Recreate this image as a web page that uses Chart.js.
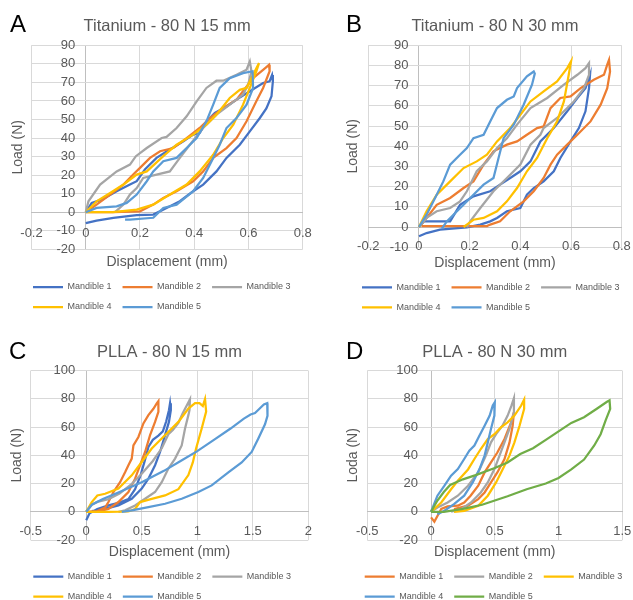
<!DOCTYPE html>
<html>
<head>
<meta charset="utf-8">
<script src="https://cdn.jsdelivr.net/npm/chart.js@4.4.1/dist/chart.umd.min.js"></script>
<style>
  html, body { margin: 0; padding: 0; background: #fff; overflow: hidden; }
  #page { position: relative; width: 633px; height: 600px; overflow: hidden; background: #fff; }
  #page canvas { position: absolute; }
  .tag { position: absolute; font-family: 'Liberation Sans', Arial, sans-serif; font-size: 24px; line-height: 24px; color: #000; }
</style>
</head>
<body>
<div id="page">
  <canvas id="chartA" width="330" height="320" style="left:0;top:0"></canvas>
  <canvas id="chartB" width="330" height="320" style="left:316px;top:0"></canvas>
  <canvas id="chartC" width="330" height="290" style="left:0;top:320px"></canvas>
  <canvas id="chartD" width="330" height="290" style="left:316px;top:320px"></canvas>
  <div class="tag" style="left:10px;top:12px">A</div>
  <div class="tag" style="left:346px;top:12px">B</div>
  <div class="tag" style="left:9px;top:339px">C</div>
  <div class="tag" style="left:346px;top:339px">D</div>
</div>
<script>
// --- data: [displacement (mm), load (N)] ---

// A: Titanium - 80 N 15 mm
const tiA_m1 = [[0,0],[0.022,5],[0.059,6.8],[0.114,11.3],[0.163,14.9],[0.188,16.7],[0.218,23],[0.261,29.3],[0.31,33.8],[0.36,38.2],[0.396,41.8],[0.42,42.7],[0.445,49],[0.476,53.5],[0.519,57],[0.556,60.7],[0.605,65.2],[0.654,69.7],[0.678,70.6],[0.687,74],[0.69,70.6],[0.685,62.5],[0.666,56],[0.642,50.8],[0.605,43.6],[0.568,36.4],[0.519,29.3],[0.482,22],[0.433,14.9],[0.396,11.3],[0.347,5.9],[0.298,2.3],[0.249,-1.3],[0.188,-1.6],[0.102,-3],[0.04,-4.5],[0,-5.9]];
const tiA_m2 = [[0,0],[0.04,4.1],[0.09,9.5],[0.139,14.9],[0.175,20.3],[0.2,23.9],[0.237,29.3],[0.274,32.9],[0.323,34.6],[0.35,37.5],[0.372,40],[0.42,45.4],[0.458,50.8],[0.507,56.2],[0.556,60.7],[0.58,65.2],[0.617,72.3],[0.654,76.8],[0.676,79.5],[0.678,76],[0.654,67],[0.629,59.8],[0.593,49],[0.556,40],[0.519,34.6],[0.47,29.3],[0.433,22],[0.396,16.7],[0.335,11.3],[0.286,7.7],[0.249,4.1],[0.2,0.5],[0.1,0],[0,0]];
const tiA_m3 = [[0,0],[0.01,5.9],[0.053,14.9],[0.114,22],[0.163,25.7],[0.185,30.2],[0.225,34.6],[0.28,40],[0.298,40.6],[0.335,45.4],[0.372,51.7],[0.409,59.8],[0.445,67],[0.482,70.9],[0.507,70.9],[0.556,74.1],[0.593,76.8],[0.605,81.3],[0.611,76],[0.599,68.8],[0.58,63.4],[0.531,58],[0.482,52.6],[0.433,45.4],[0.384,36.4],[0.347,29.3],[0.31,22],[0.261,20.3],[0.212,18.5],[0.188,13],[0.163,9.5],[0.139,4.1],[0.108,0]];
const tiA_m4 = [[0,0],[0.04,5.9],[0.09,10.4],[0.139,14.9],[0.188,20.3],[0.225,22],[0.286,30.2],[0.335,36.4],[0.396,41.8],[0.445,47.2],[0.482,52.6],[0.531,61.6],[0.568,66],[0.593,67],[0.617,74.1],[0.639,80.4],[0.629,76],[0.605,67],[0.58,58],[0.544,47.2],[0.507,40],[0.47,31],[0.42,22],[0.372,14.9],[0.31,9.5],[0.249,4.1],[0.188,1.4],[0.1,0],[0,0]];
const tiA_m5 = [[0,0],[0.04,2.3],[0.114,3.2],[0.151,5],[0.188,9.5],[0.225,16.7],[0.249,22],[0.286,27.5],[0.335,29.3],[0.372,34.6],[0.409,40],[0.445,49],[0.47,58],[0.494,67],[0.531,72.3],[0.58,75],[0.615,76],[0.617,67],[0.593,58],[0.556,50.8],[0.519,45.4],[0.494,36.4],[0.464,27.5],[0.433,18.5],[0.396,11.3],[0.335,4.1],[0.286,2.3],[0.249,-3],[0.163,-4],[0.145,-4]];

// B: Titanium - 80 N 30 mm
const tiB_m1 = [[0,0],[0.02,2.8],[0.123,2.8],[0.162,11],[0.215,15.2],[0.281,17.7],[0.32,21],[0.36,24.3],[0.4,27.6],[0.44,32.5],[0.479,42.4],[0.532,49],[0.585,57.3],[0.625,63.9],[0.657,68.8],[0.675,75.4],[0.671,68.8],[0.657,57.3],[0.631,49],[0.598,42.4],[0.558,34.2],[0.532,27.6],[0.492,22.6],[0.453,19.3],[0.426,16],[0.4,9.4],[0.347,7.8],[0.308,4.5],[0.281,2.8],[0.242,1.2],[0.189,-0.2],[0.083,-1.3],[0.03,-3],[0,-4.6]];
const tiB_m2 = [[0,0],[0.03,4.5],[0.07,11],[0.123,14.4],[0.176,19.3],[0.215,22.6],[0.255,30.9],[0.294,37.5],[0.347,40.8],[0.387,42.4],[0.426,45.7],[0.466,49],[0.492,49.8],[0.519,58.9],[0.558,63.9],[0.598,64.7],[0.638,68.8],[0.69,72.9],[0.73,75.4],[0.743,80.4],[0.75,82.8],[0.754,77],[0.743,68.8],[0.717,60.6],[0.677,52.3],[0.625,45.7],[0.585,40.8],[0.545,35.8],[0.519,30.9],[0.492,24.3],[0.453,17.7],[0.413,12.7],[0.36,7.8],[0.32,2.8],[0.281,1.2],[0.268,0.5],[0.01,0.5]];
const tiB_m3 = [[0,0],[0.03,4.5],[0.07,7.8],[0.123,9.4],[0.162,12.7],[0.189,17.7],[0.228,27.6],[0.268,32.5],[0.308,39.1],[0.347,44],[0.387,50.7],[0.44,58.9],[0.506,63.9],[0.572,70.5],[0.625,75.4],[0.657,78.7],[0.671,81.2],[0.671,75.4],[0.651,68.8],[0.611,62.2],[0.545,54],[0.492,49],[0.479,45.7],[0.44,40.8],[0.4,30.9],[0.347,24.3],[0.294,17.7],[0.242,9.4],[0.202,2.8],[0.189,0]];
const tiB_m4 = [[0,0],[0.03,7.8],[0.07,16],[0.123,22.6],[0.176,29.2],[0.228,32.5],[0.268,35.8],[0.308,42.4],[0.36,49],[0.4,55.6],[0.44,62.2],[0.492,67.2],[0.545,72.1],[0.585,78.7],[0.6,82],[0.591,75.4],[0.572,62.2],[0.545,52.3],[0.506,44],[0.466,34.2],[0.426,27.6],[0.387,19.3],[0.347,12.7],[0.308,7.8],[0.255,4.5],[0.215,3.6],[0.189,1.2],[0.176,0]];
const tiB_m5 = [[0,0],[0.03,6.1],[0.07,16],[0.096,22.6],[0.123,30.9],[0.162,35.8],[0.189,39.1],[0.215,44],[0.255,45.7],[0.281,52.3],[0.308,58.9],[0.347,63],[0.374,64.7],[0.387,68.8],[0.426,74.6],[0.453,77],[0.457,76],[0.446,70.5],[0.413,60.6],[0.374,50.7],[0.334,44],[0.314,34.2],[0.294,24.3],[0.255,21],[0.215,16],[0.176,11],[0.136,6.1],[0.11,2.8],[0.09,-0.8]];

// C: PLLA - 80 N 15 mm
const plC_m1 = [[0,-6],[0.03,-1],[0.1,2],[0.2,4.5],[0.3,6.5],[0.38,9],[0.44,16],[0.49,26],[0.53,37],[0.56,46],[0.6,51],[0.65,54],[0.69,57],[0.72,64],[0.745,72],[0.755,77],[0.762,72],[0.745,63.7],[0.71,54.3],[0.665,42.4],[0.62,33],[0.56,23.5],[0.5,16.4],[0.41,9.2],[0.29,4.5],[0.17,2],[0.05,0.5]];
const plC_m2 = [[0,0],[0.1,0.5],[0.17,3],[0.2,6.9],[0.245,14],[0.305,21],[0.35,28],[0.38,33],[0.41,37.7],[0.425,47],[0.47,53],[0.515,62.6],[0.56,68.5],[0.605,73],[0.635,76.8],[0.65,78.4],[0.65,70.9],[0.62,63.7],[0.575,54.3],[0.53,42.4],[0.485,33],[0.44,23.5],[0.38,14],[0.29,6.9],[0.2,2],[0.11,0.2]];
const plC_m3 = [[0,0],[0.05,5],[0.1,7],[0.2,9],[0.3,13],[0.4,19],[0.5,27],[0.6,36],[0.68,45],[0.74,55],[0.78,58],[0.83,63],[0.87,70],[0.91,76],[0.934,79.6],[0.93,72],[0.92,68.5],[0.89,59],[0.86,47],[0.8,37.7],[0.74,30.6],[0.68,21],[0.62,14],[0.53,9.2],[0.44,4.5],[0.35,1],[0.29,0]];
const plC_m4 = [[0,0],[0.05,6.9],[0.1,11.6],[0.17,12.8],[0.29,16.4],[0.41,25.8],[0.5,35.3],[0.59,44.8],[0.68,51.9],[0.77,59],[0.83,63.7],[0.92,73.2],[0.98,77],[1.02,77],[1.05,75],[1.07,80],[1.08,71],[1.04,59],[0.99,45],[0.96,35],[0.92,26],[0.83,16],[0.71,11.6],[0.59,9.2],[0.485,6.9],[0.44,2],[0.38,0.2],[0.2,0],[0,0]];
const plC_m5 = [[0,0],[0.05,5],[0.15,9],[0.3,14],[0.5,21],[0.7,29],[0.85,36],[1,43],[1.15,51],[1.3,59],[1.42,66],[1.48,69],[1.52,70],[1.56,73],[1.6,76],[1.63,77],[1.635,74],[1.63,68],[1.61,62],[1.55,52],[1.49,42.4],[1.4,35],[1.28,28],[1.13,18.7],[1.01,14],[0.86,9.2],[0.71,5.7],[0.56,3.3],[0.41,1],[0.32,0]];

// D: PLLA - 80 N 30 mm
const plD_m1 = [[0,-4],[0.026,-7],[0.05,-3],[0.08,2],[0.13,3.8],[0.21,4.3],[0.26,6.6],[0.31,11.4],[0.37,18.5],[0.42,27.9],[0.47,35],[0.52,42],[0.576,51.6],[0.628,63.4],[0.65,70.5],[0.64,61],[0.615,49],[0.576,37.4],[0.52,27.9],[0.47,20.8],[0.42,13.7],[0.37,9],[0.29,4.3],[0.18,1.9]];
const plD_m2 = [[0,0],[0.05,3],[0.13,6.6],[0.21,11.4],[0.29,18.5],[0.37,27.9],[0.43,39.8],[0.47,49.2],[0.51,55],[0.56,61],[0.6,68],[0.63,75],[0.65,80.5],[0.65,70.5],[0.615,58.7],[0.576,49.2],[0.537,39.8],[0.497,30.3],[0.445,20.8],[0.39,13.7],[0.314,6.6],[0.236,1.9],[0.157,0]];
const plD_m3 = [[0,0],[0.08,6.6],[0.157,16],[0.21,22],[0.29,30],[0.34,37.4],[0.39,44.5],[0.445,51.6],[0.497,55],[0.55,60],[0.6,63.4],[0.654,68.2],[0.707,75.3],[0.73,79.5],[0.73,72.9],[0.694,61],[0.654,49.2],[0.615,39.8],[0.563,30.3],[0.51,20.8],[0.445,11.4],[0.37,4.3],[0.26,0.7],[0.18,0]];
const plD_m4 = [[0,0],[0.05,11.4],[0.105,18.5],[0.157,25.6],[0.21,30.3],[0.26,37.4],[0.3,43.3],[0.34,46.9],[0.38,54],[0.42,61],[0.46,68.2],[0.484,75.3],[0.5,77.6],[0.497,68.2],[0.47,58.7],[0.445,49.2],[0.42,39.8],[0.38,30.3],[0.327,20.8],[0.26,11.4],[0.18,5.4],[0.105,0.7],[0.05,-1.7]];
const plD_m5 = [[0,0],[0.05,8],[0.1,14],[0.15,19],[0.25,23],[0.35,26],[0.5,31],[0.6,35],[0.7,41],[0.8,45],[0.9,51],[1,57],[1.1,63],[1.2,67],[1.3,73],[1.38,78],[1.4,79],[1.405,73],[1.37,65],[1.33,55],[1.28,47],[1.2,37],[1.1,30],[1,24],[0.9,20],[0.75,16],[0.6,11],[0.5,8],[0.4,5],[0.25,2],[0.1,0],[0,0]];

const names = ['Mandible 1', 'Mandible 2', 'Mandible 3', 'Mandible 4', 'Mandible 5'];

// axis ranges [min, max, step]
const tiA_xAxis = [-0.2, 0.8, 0.2], tiA_yAxis = [-20, 90, 10];
const tiB_xAxis = [-0.2, 0.8, 0.2], tiB_yAxis = [-10, 90, 10];
const plC_xAxis = [-0.5, 2, 0.5],  plC_yAxis = [-20, 100, 20];
const plD_xAxis = [-0.5, 1.5, 0.5], plD_yAxis = [-20, 100, 20];

// excel office colours
const BLUE = '#4472C4', ORANGE = '#ED7D31', GRAY = '#A5A5A5', GOLD = '#FFC000', LBLUE = '#5B9BD5', GREEN = '#70AD47';
const TXT = '#595959', GRID = '#d9d9d9', AXIS = '#bfbfbf';
const FONT = "'Liberation Sans', Arial, sans-serif";
const LEG_FONT = 9, LEG_PAD = 11;

function fmt(v) { return String(Number(v.toFixed(2))); }

function buildPanel(id, cfg, box) {
  const canvas = document.getElementById(id);
  const W = canvas.width, H = canvas.height;
  const titleLH = 16.5 * 1.2, axisLH = 14 * 1.2;
  const padLeft = box.legendX - LEG_PAD;
  const legendTop = box.legendRow - LEG_PAD - LEG_FONT / 2;
  const legendH = 2 * (LEG_FONT + LEG_PAD) + 10;
  const titleTop = box.titleY - titleLH / 2;
  // y tick labels sit right-aligned a few px left of the x = 0 line
  const pxPerUnit = (box.right - box.left) / (cfg.xAxis[1] - cfg.xAxis[0]);
  const yLabelAt = -box.yGap / pxPerUnit;

  const datasets = cfg.series.map((s, i) => ({
    label: names[i],
    data: s.map(p => ({x: p[0], y: p[1]})),
    borderColor: cfg.colors[i],
    backgroundColor: cfg.colors[i],
    borderWidth: 2.25,
    pointRadius: 0,
    showLine: true,
    tension: 0,
    order: cfg.series.length - i
  }));

  const tick = {color: TXT, font: {family: FONT, size: 13}, autoSkip: false, callback: fmt};
  const hidden = {
    type: 'linear',
    grid: {display: false, drawTicks: false},
    border: {display: false},
    ticks: {display: false}
  };

  new Chart(canvas, {
    type: 'scatter',
    data: {datasets},
    options: {
      responsive: false,
      animation: false,
      devicePixelRatio: 1,
      layout: {padding: {left: padLeft, right: 0, top: 0, bottom: H - legendTop - legendH}},
      plugins: {
        title: {
          display: true, text: cfg.title, fullSize: false, color: TXT,
          font: {family: FONT, size: 16.5, weight: 'normal'},
          padding: {top: titleTop, bottom: box.top - titleTop - titleLH}
        },
        legend: {
          position: 'bottom', align: 'start',
          labels: {
            usePointStyle: true, pointStyle: 'line', pointStyleWidth: 30,
            padding: LEG_PAD, color: TXT, font: {family: FONT, size: LEG_FONT},
            sort: (a, b) => a.datasetIndex - b.datasetIndex
          }
        },
        tooltip: {enabled: false}
      },
      scales: {
        x: {
          type: 'linear', position: {y: 0},
          min: cfg.xAxis[0], max: cfg.xAxis[1],
          ticks: Object.assign({stepSize: cfg.xAxis[2], padding: box.xGap}, tick),
          grid: {color: c => (c.tick && c.tick.value === 0 ? AXIS : GRID), drawTicks: false},
          border: {color: AXIS}
        },
        y: {
          type: 'linear', position: {x: yLabelAt},
          min: cfg.yAxis[0], max: cfg.yAxis[1],
          ticks: Object.assign({stepSize: cfg.yAxis[2]}, tick),
          grid: {color: GRID, drawTicks: false},
          border: {display: false}
        },
        yt: Object.assign({}, hidden, {
          axis: 'y', position: 'left',
          title: {display: true, text: cfg.yTitle, color: TXT, font: {family: FONT, size: 14},
                  padding: {top: box.yTitleX - padLeft - axisLH / 2, bottom: 0}},
          afterFit: s => { s.width = box.left - padLeft; }
        }),
        yr: Object.assign({}, hidden, {
          axis: 'y', position: 'right',
          afterFit: s => { s.width = W - box.right; }
        }),
        xt: Object.assign({}, hidden, {
          axis: 'x', position: 'bottom',
          title: {display: true, text: 'Displacement (mm)', color: TXT, font: {family: FONT, size: 14},
                  padding: {top: 0, bottom: legendTop - box.xTitleY - axisLH / 2}},
          afterFit: s => { s.height = legendTop - box.bottom; }
        })
      }
    }
  });
}

buildPanel('chartA', {
  title: 'Titanium - 80 N 15 mm', yTitle: 'Load (N)',
  series: [tiA_m1, tiA_m2, tiA_m3, tiA_m4, tiA_m5],
  colors: [BLUE, ORANGE, GRAY, GOLD, LBLUE],
  xAxis: tiA_xAxis, yAxis: tiA_yAxis
}, {left: 31.5, right: 302.7, top: 45.3, bottom: 249.3, titleY: 26, yTitleX: 18, xTitleY: 262.5,
    xGap: 13.5, yGap: 10.5, legendX: 33, legendRow: 287});

buildPanel('chartB', {
  title: 'Titanium - 80 N 30 mm', yTitle: 'Load (N)',
  series: [tiB_m1, tiB_m2, tiB_m3, tiB_m4, tiB_m5],
  colors: [BLUE, ORANGE, GRAY, GOLD, LBLUE],
  xAxis: tiB_xAxis, yAxis: tiB_yAxis
}, {left: 52.3, right: 305.7, top: 45.3, bottom: 247.2, titleY: 26, yTitleX: 37, xTitleY: 263.3,
    xGap: 12, yGap: 10.5, legendX: 46, legendRow: 287.3});

buildPanel('chartC', {
  title: 'PLLA - 80 N 15 mm', yTitle: 'Load (N)',
  series: [plC_m1, plC_m2, plC_m3, plC_m4, plC_m5],
  colors: [BLUE, ORANGE, GRAY, GOLD, LBLUE],
  xAxis: plC_xAxis, yAxis: plC_yAxis
}, {left: 30.7, right: 308.3, top: 50.7, bottom: 220, titleY: 32.5, yTitleX: 16.7, xTitleY: 231.7,
    xGap: 12, yGap: 11, legendX: 33.3, legendRow: 256.7});

buildPanel('chartD', {
  title: 'PLLA - 80 N 30 mm', yTitle: 'Loda (N)',
  series: [plD_m1, plD_m2, plD_m3, plD_m4, plD_m5],
  colors: [ORANGE, GRAY, GOLD, LBLUE, GREEN],
  xAxis: plD_xAxis, yAxis: plD_yAxis
}, {left: 51.3, right: 306.3, top: 50.7, bottom: 220, titleY: 32.5, yTitleX: 37, xTitleY: 231.7,
    xGap: 12, yGap: 13, legendX: 48.7, legendRow: 256.7});
</script>
</body>
</html>
